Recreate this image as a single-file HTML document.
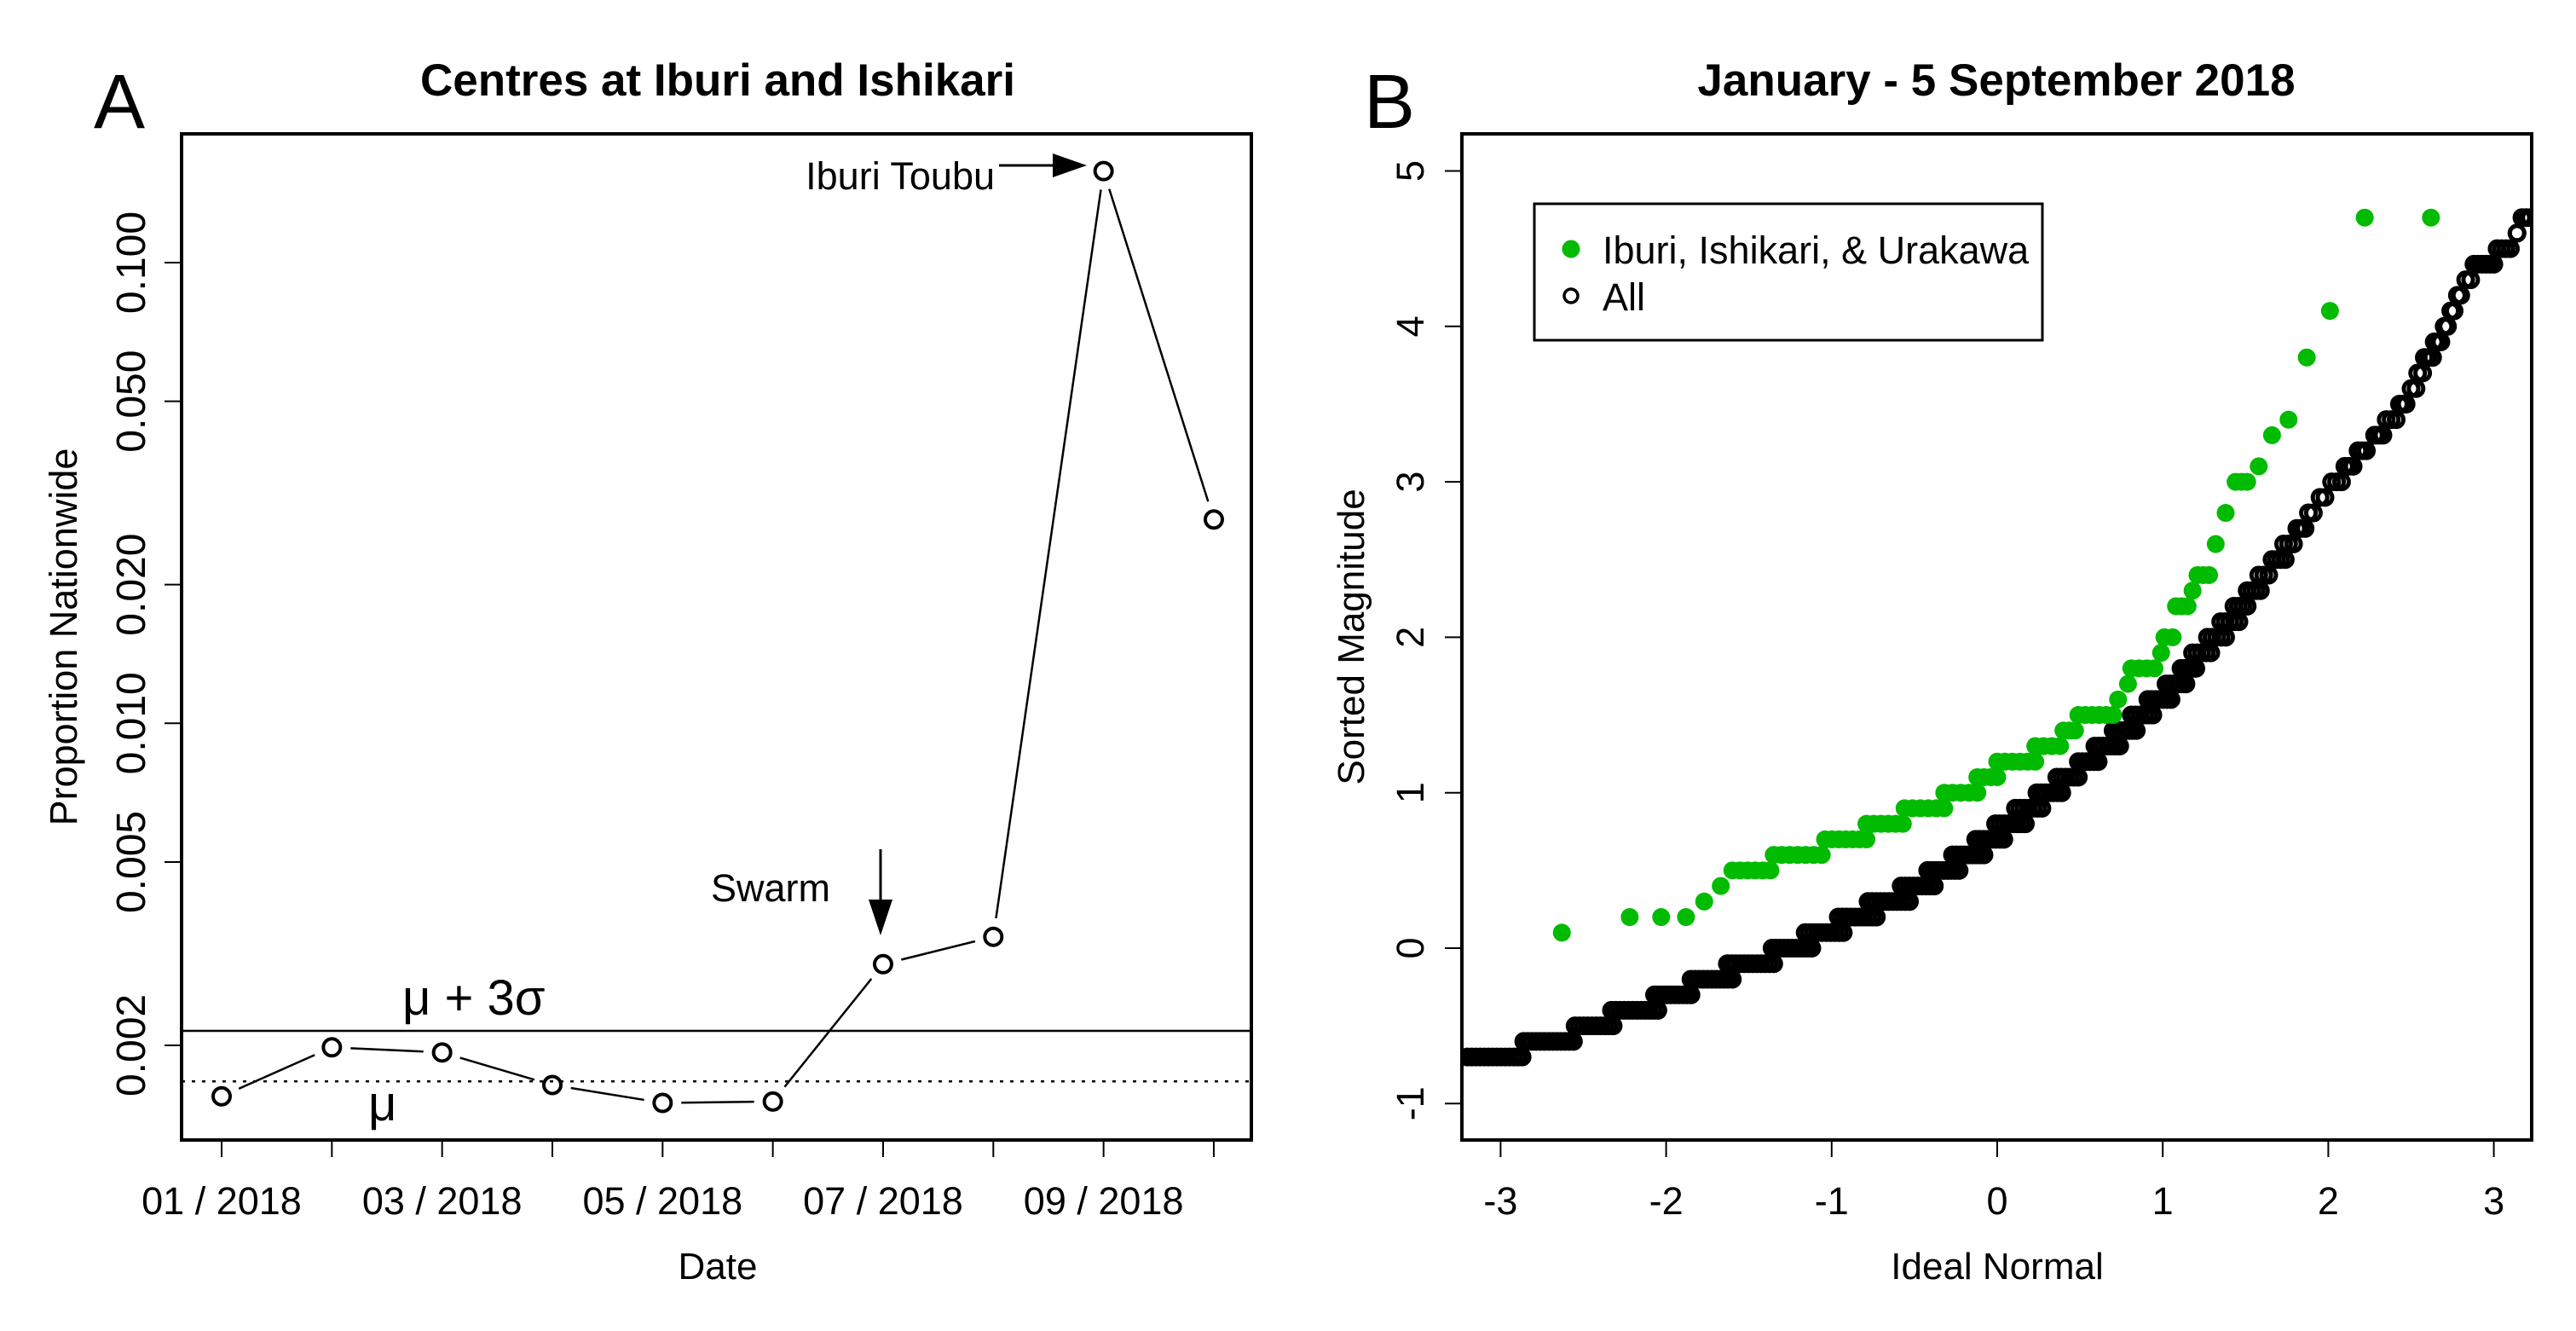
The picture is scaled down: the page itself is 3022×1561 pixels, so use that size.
<!DOCTYPE html>
<html><head><meta charset="utf-8"><style>
html,body{margin:0;padding:0;background:#fff;}
svg{display:block;font-family:"Liberation Sans",Arial,sans-serif;}
</style></head><body>
<svg id="fig" width="3022" height="1561" viewBox="0 0 3022 1561" xmlns="http://www.w3.org/2000/svg">
<rect x="0" y="0" width="3022" height="1561" fill="#fff"/>
<g id="panelA"></g>
<g id="panelB"></g>
</svg>
<script>
// ---- Panel A data ----
const monthIndex = [1,2,3,4,5,6,7,8,9,10];
const proportion = [0.00155,0.00198,0.00193,0.00164,0.0015,0.00151,0.0030,0.00344,0.158,0.0277];
const muValue = 0.00167;
const mu3sValue = 0.00215;
const aYTicks = [0.002,0.005,0.010,0.020,0.050,0.100];
const aYTickLabels = ["0.002","0.005","0.010","0.020","0.050","0.100"];
const aXTicks = [1,3,5,7,9];
const aXTickLabels = ["01 / 2018","03 / 2018","05 / 2018","07 / 2018","09 / 2018"];

// ---- Panel B data ----
const allMag = [-0.7,-0.6,-0.5,-0.4,-0.3,-0.2,-0.1,0.0,0.1,0.2,0.3,0.4,0.5,0.6,0.7,0.8,0.9,1.0,1.1,1.2,1.3,1.4,1.5,1.6,1.7,1.8,1.9,2.0,2.1,2.2,2.3,2.4,2.5,2.6,2.7,2.8,2.9,3.0,3.1,3.2,3.3,3.4,3.5,3.6,3.7,3.8,3.9,4.0,4.1,4.2,4.3,4.4,4.5,4.6,4.7];
const allZStart = [-3.2,-2.86,-2.55,-2.33,-2.07,-1.85,-1.63,-1.36,-1.16,-0.96,-0.78,-0.58,-0.42,-0.27,-0.13,-0.01,0.11,0.24,0.36,0.49,0.59,0.70,0.81,0.91,1.02,1.11,1.18,1.27,1.35,1.43,1.51,1.58,1.66,1.73,1.81,1.88,1.95,2.02,2.10,2.18,2.28,2.35,2.43,2.50,2.54,2.58,2.64,2.70,2.74,2.78,2.83,2.88,3.02,3.14,3.17];
const allZEnd = [-2.87,-2.56,-2.32,-2.05,-1.85,-1.60,-1.35,-1.12,-0.93,-0.73,-0.53,-0.38,-0.23,-0.08,0.04,0.17,0.27,0.39,0.49,0.61,0.74,0.84,0.94,1.05,1.14,1.20,1.29,1.38,1.46,1.51,1.59,1.64,1.74,1.79,1.86,1.91,1.98,2.08,2.15,2.23,2.33,2.41,2.47,2.53,2.57,2.63,2.68,2.72,2.76,2.80,2.86,3.00,3.10,3.14,3.22];
const grpMag = [0.1,0.2,0.2,0.2,0.3,0.4,0.5,0.6,0.7,0.8,0.9,1.0,1.1,1.2,1.3,1.4,1.5,1.6,1.7,1.8,1.9,2.0,2.2,2.3,2.4,2.6,2.8,3.0,3.1,3.3,3.4,3.8,4.1,4.7,4.7];
const grpZStart = [-2.63,-2.22,-2.03,-1.88,-1.77,-1.67,-1.60,-1.35,-1.04,-0.79,-0.56,-0.32,-0.12,0.0,0.23,0.40,0.49,0.73,0.79,0.81,0.99,1.01,1.08,1.18,1.21,1.32,1.38,1.44,1.58,1.66,1.76,1.87,2.01,2.22,2.62];
const grpZEnd = [-2.63,-2.22,-2.03,-1.88,-1.77,-1.67,-1.37,-1.06,-0.79,-0.57,-0.32,-0.12,0.0,0.23,0.38,0.47,0.70,0.75,0.79,0.95,0.99,1.06,1.15,1.18,1.28,1.32,1.38,1.51,1.58,1.66,1.76,1.87,2.01,2.22,2.62];
const bXTicks = [-3,-2,-1,0,1,2,3];
const bXTickLabels = ["-3","-2","-1","0","1","2","3"];
const bYTicks = [-1,0,1,2,3,4,5];
const bYTickLabels = ["-1","0","1","2","3","4","5"];

const NS = "http://www.w3.org/2000/svg";
function mk(parent, tag, attrs, text){
  const e = document.createElementNS(NS, tag);
  for (const k in attrs) e.setAttribute(k, attrs[k]);
  if (text !== undefined) e.textContent = text;
  parent.appendChild(e);
  return e;
}

// ===== Panel A =====
const A = document.getElementById('panelA');
const aL=213, aR=1468, aT=157, aB=1337;
const ax = m => 260 + (m-1)*129.33;
const ay = v => 308 + (-1 - Math.log10(v)) * 540.3;

let t = mk(A,'text',{x:140,y:150,'font-size':90,'text-anchor':'middle'},'A');
 
t = mk(A,'text',{x:842,y:112,'font-size':53,'font-weight':'bold','text-anchor':'middle'},'Centres at Iburi and Ishikari');
 

let r = mk(A,'rect',{x:aL,y:aT,width:aR-aL,height:aB-aT,fill:'none',stroke:'#000','stroke-width':4});
 

aYTicks.forEach((v,i)=>{
  const y = ay(v);
  const l = mk(A,'line',{x1:aL-20,y1:y,x2:aL,y2:y,stroke:'#000','stroke-width':2});
   
  const tx = mk(A,'text',{x:0,y:0,'font-size':48,'text-anchor':'middle',transform:`translate(170,${y}) rotate(-90)`},aYTickLabels[i]);
   
});
monthIndex.forEach(m=>{
  const x = ax(m);
  const l = mk(A,'line',{x1:x,y1:aB,x2:x,y2:aB+20,stroke:'#000','stroke-width':2});
   
});
aXTicks.forEach((m,i)=>{
  const tx = mk(A,'text',{x:ax(m),y:1424,'font-size':45,'text-anchor':'middle'},aXTickLabels[i]);
   
});
t = mk(A,'text',{x:842,y:1500,'font-size':44,'text-anchor':'middle'},'Date');
 
t = mk(A,'text',{x:0,y:0,'font-size':45,'text-anchor':'middle',transform:'translate(90,747) rotate(-90)'},'Proportion Nationwide');
 

let ln = mk(A,'line',{x1:aL,y1:ay(mu3sValue),x2:aR,y2:ay(mu3sValue),stroke:'#000','stroke-width':2.5});
 
ln = mk(A,'line',{x1:aL,y1:ay(muValue),x2:aR,y2:ay(muValue),stroke:'#000','stroke-width':2.5,'stroke-dasharray':'4 8'});
 
t = mk(A,'text',{x:472,y:1190,'font-size':58},'μ + 3σ');
 
t = mk(A,'text',{x:432,y:1314,'font-size':58},'μ');
 

for (let i=0;i<monthIndex.length-1;i++){
  const x1=ax(monthIndex[i]), y1=ay(proportion[i]), x2=ax(monthIndex[i+1]), y2=ay(proportion[i+1]);
  const d=Math.hypot(x2-x1,y2-y1), g=22;
  if (d<=2*g) continue;
  const ux=(x2-x1)/d, uy=(y2-y1)/d;
  const s = mk(A,'line',{x1:x1+ux*g,y1:y1+uy*g,x2:x2-ux*g,y2:y2-uy*g,stroke:'#000','stroke-width':2.5});
   
}
monthIndex.forEach((m,i)=>{
  const c = mk(A,'circle',{cx:ax(m),cy:ay(proportion[i]),r:10,fill:'none',stroke:'#000','stroke-width':4});
   
});
t = mk(A,'text',{x:1167,y:222,'font-size':45,'text-anchor':'end'},'Iburi Toubu');
 
ln = mk(A,'line',{x1:1172,y1:194,x2:1240,y2:194,stroke:'#000','stroke-width':3});
 
let p = mk(A,'polygon',{points:'1275,194 1235,180 1235,208',fill:'#000'});
 
t = mk(A,'text',{x:904,y:1057,'font-size':45,'text-anchor':'middle'},'Swarm');
 
ln = mk(A,'line',{x1:1033,y1:996,x2:1033,y2:1060,stroke:'#000','stroke-width':3});
 
p = mk(A,'polygon',{points:'1033,1097 1019,1055 1047,1055',fill:'#000'});
 

// ===== Panel B =====
const B = document.getElementById('panelB');
const bL=1715, bR=2970, bT=157, bB=1337;
const bx = z => 2343 + z*194.2;
const by = v => 1112 - v*182.3;

t = mk(B,'text',{x:1630,y:150,'font-size':90,'text-anchor':'middle'},'B');
 
t = mk(B,'text',{x:2342,y:112,'font-size':53,'font-weight':'bold','text-anchor':'middle'},'January - 5 September 2018');
 

bXTicks.forEach((v,i)=>{
  const x=bx(v);
  const l = mk(B,'line',{x1:x,y1:bB,x2:x,y2:bB+20,stroke:'#000','stroke-width':2});
   
  const tx = mk(B,'text',{x:x,y:1424,'font-size':45,'text-anchor':'middle'},bXTickLabels[i]);
   
});
bYTicks.forEach((v,i)=>{
  const y=by(v);
  const l = mk(B,'line',{x1:bL-20,y1:y,x2:bL,y2:y,stroke:'#000','stroke-width':2});
   
  const tx = mk(B,'text',{x:0,y:0,'font-size':45,'text-anchor':'middle',transform:`translate(1670,${y}) rotate(-90)`},bYTickLabels[i]);
   
});
t = mk(B,'text',{x:2343,y:1500,'font-size':44,'text-anchor':'middle'},'Ideal Normal');
 
t = mk(B,'text',{x:0,y:0,'font-size':44,'text-anchor':'middle',transform:'translate(1600,747) rotate(-90)'},'Sorted Magnitude');
 

const clip = mk(B,'clipPath',{id:'clipB'});
mk(clip,'rect',{x:bL,y:bT,width:bR-bL,height:bB-bT});
const pts = mk(B,'g',{'clip-path':'url(#clipB)'});
 

allMag.forEach((m,i)=>{
  const z0=allZStart[i], z1=allZEnd[i];
  const n=Math.max(1,Math.round((z1-z0)/0.025));
  for(let k=0;k<=n;k++){
    const z = z0+(z1-z0)*k/n;
    const c = mk(pts,'circle',{cx:bx(z),cy:by(m),r:8.5,fill:'none',stroke:'#000','stroke-width':5});
     
  }
});
grpMag.forEach((m,i)=>{
  const z0=grpZStart[i], z1=grpZEnd[i];
  const n=Math.max(0,Math.round((z1-z0)/0.045));
  for(let k=0;k<=n;k++){
    const z = n? z0+(z1-z0)*k/n : z0;
    const c = mk(pts,'circle',{cx:bx(z),cy:by(m),r:10.5,fill:'#00bb00'});
     
  }
});

r = mk(B,'rect',{x:bL,y:bT,width:bR-bL,height:bB-bT,fill:'none',stroke:'#000','stroke-width':4});
 

const lg = mk(B,'g',{});
 
r = mk(lg,'rect',{x:1800,y:239,width:596,height:160,fill:'#fff',stroke:'#000','stroke-width':3});
 
let c = mk(lg,'circle',{cx:1843,cy:292,r:10.5,fill:'#00bb00'});
 
t = mk(lg,'text',{x:1880,y:309,'font-size':45},'Iburi, Ishikari, & Urakawa');
 
c = mk(lg,'circle',{cx:1843,cy:347,r:8,fill:'none',stroke:'#000','stroke-width':3.5});
 
t = mk(lg,'text',{x:1880,y:364,'font-size':45},'All');
 
</script>
</body></html>
